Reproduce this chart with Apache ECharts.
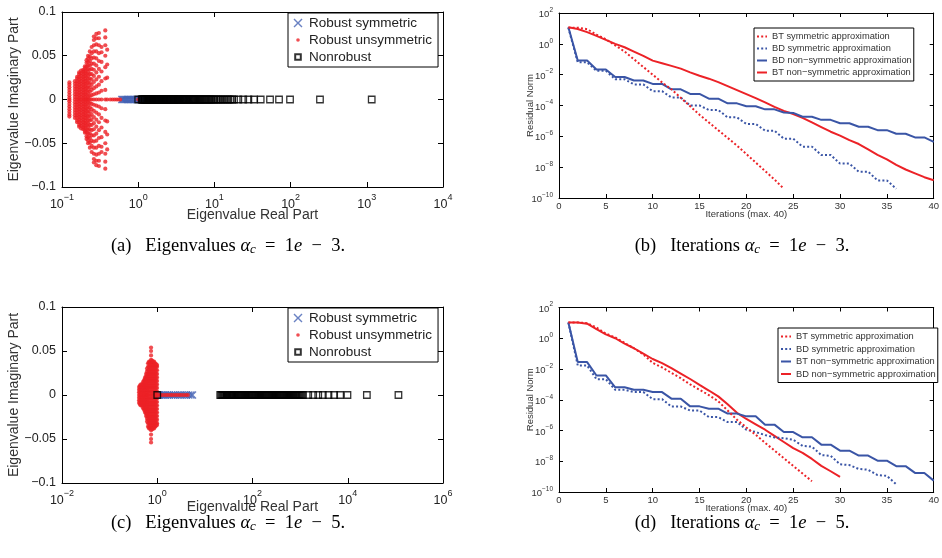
<!DOCTYPE html>
<html><head><meta charset="utf-8">
<script src="https://cdn.jsdelivr.net/npm/echarts@6/dist/echarts.min.js"></script>
<style>html,body{margin:0;padding:0;background:#fff}#c{width:942px;height:558px}</style>
</head><body><div id="c"></div>
<script>
// ---------------- DATA ----------------
// Panel (a): eigenvalues, alpha_c = 1e-3
// Robust symmetric (blue x): real parts, imaginary part 0
const symA_re = [0.61,0.63,0.65,0.67,0.69,0.71,0.73,0.75,0.78,0.8,0.83,0.86,0.89,0.92,0.95,0.98,1.02,1.06,1.1,1.15,1.2,1.25,1.3,1.36,1.42,1.5,1.6,1.7,1.8,1.95,2.1,2.3,2.5,2.75,3.0,3.3,3.6,4.0,4.4,4.8];
// Robust unsymmetric (red dots): [real part, |imag| values of conjugate pairs]
const unsymA_cols = [
  [0.125,[0.002,0.005,0.008,0.011,0.014,0.017,0.0195]],
  [0.148,[0.003,0.006,0.009,0.012,0.015,0.018,0.021]],
  [0.158,[0.003,0.006,0.009,0.012,0.015,0.018,0.021,0.024,0.026]],
  [0.168,[0.002,0.005,0.008,0.011,0.014,0.017,0.02,0.023,0.026,0.029,0.031]],
  [0.178,[0.003,0.006,0.009,0.012,0.015,0.018,0.021,0.024,0.027,0.03,0.033]],
  [0.19,[0.002,0.005,0.008,0.011,0.014,0.017,0.02,0.023,0.026,0.029,0.032,0.034]],
  [0.2,[0.003,0.006,0.009,0.012,0.015,0.018,0.021,0.024,0.027,0.03,0.033,0.036,0.038]],
  [0.21,[0.002,0.006,0.01,0.014,0.018,0.022,0.026,0.03,0.034,0.038,0.042,0.045]],
  [0.22,[0.003,0.007,0.011,0.015,0.019,0.023,0.027,0.031,0.035,0.039,0.043,0.047,0.05]],
  [0.232,[0.004,0.009,0.014,0.019,0.024,0.029,0.034,0.039,0.044,0.049,0.055]],
  [0.245,[0.005,0.011,0.017,0.023,0.029,0.035,0.041,0.047,0.053,0.06]],
  [0.262,[0.006,0.013,0.02,0.027,0.034,0.041,0.048,0.055,0.062,0.068,0.072]],
  [0.282,[0.007,0.015,0.023,0.031,0.039,0.047,0.055,0.063,0.07,0.075]],
  [0.305,[0.008,0.017,0.026,0.035,0.044,0.053,0.062,0.07,0.076]],
  [0.33,[0.01,0.021,0.032,0.043,0.054,0.06]],
  [0.37,[0.011,0.024,0.037,0.05,0.062,0.071,0.079]],
  [0.392,[0.025,0.04,0.057]],
  [0.43,[]],[0.46,[]],[0.49,[]],[0.52,[]],[0.55,[]],[0.58,[]],[1.0,[]]
];
// Nonrobust (black squares): real parts, imaginary part 0
const nonrobA_re = [1.0,1.11,1.13,1.15,1.17,1.2,1.22,1.25,1.28,1.3,1.33,1.36,1.39,1.42,1.45,1.48,1.52,1.55,1.59,1.62,1.66,1.7,1.74,1.78,1.82,1.86,1.9,1.95,2.0,2.05,2.1,2.15,2.2,2.25,2.3,2.36,2.42,2.48,2.54,2.6,2.66,2.72,2.8,2.87,2.94,3.0,3.08,3.16,3.24,3.32,3.4,3.5,3.6,3.7,3.8,3.9,4.0,4.1,4.2,4.3,4.4,4.55,4.7,4.85,5.0,5.15,5.3,5.45,5.6,5.8,6.0,6.2,6.4,6.6,6.8,7.0,7.25,7.5,7.75,8.0,8.3,8.6,8.9,9.2,9.6,10.0,10.5,11.0,11.6,12.2,12.9,13.6,14.5,15.3,16.2,17.1,18.1,20.6,23.9,27.9,33.1,40.5,53.7,70.5,98.3,243,1160];

// Panel (c): eigenvalues, alpha_c = 1e-5
const symC_re = [0.95,1.0,1.06,1.12,1.2,1.3,1.4,1.5,1.65,1.8,2.0,2.2,2.4,2.7,3.0,3.3,3.7,4.1,4.6,5.1,5.5];
const unsymC_cols = [
  [0.415,[0.003,0.006,0.009]],
  [0.435,[0.003,0.006,0.009,0.011]],
  [0.457,[0.003,0.006,0.009,0.012]],
  [0.48,[0.003,0.006,0.009,0.012]],
  [0.504,[0.003,0.006,0.009,0.012,0.015]],
  [0.53,[0.003,0.006,0.009,0.012,0.015,0.017]],
  [0.555,[0.003,0.006,0.009,0.012,0.015,0.018,0.02]],
  [0.583,[0.003,0.006,0.009,0.012,0.015,0.018,0.021,0.024]],
  [0.611,[0.003,0.006,0.009,0.012,0.015,0.018,0.021,0.024,0.027,0.03]],
  [0.64,[0.004,0.008,0.012,0.016,0.02,0.024,0.028,0.032,0.036]],
  [0.673,[0.004,0.008,0.012,0.016,0.02,0.024,0.028,0.032,0.036,0.038]],
  [0.706,[0.004,0.008,0.012,0.016,0.02,0.024,0.028,0.032,0.036,0.038]],
  [0.741,[0.004,0.008,0.012,0.016,0.02,0.024,0.028,0.032,0.036,0.04,0.045,0.05,0.054]],
  [0.778,[0.004,0.008,0.012,0.016,0.02,0.024,0.028,0.032,0.036,0.039]],
  [0.817,[0.004,0.008,0.012,0.016,0.02,0.024,0.028,0.032,0.036,0.038]],
  [0.857,[0.004,0.008,0.012,0.016,0.02,0.024,0.028,0.032,0.036,0.038]],
  [0.9,[0.004,0.008,0.012,0.016,0.02,0.024,0.028,0.032,0.036]],
  [0.944,[0.004,0.008,0.012,0.016,0.02,0.024,0.028,0.032,0.035]],
  [0.99,[0.004,0.008,0.012,0.016,0.02,0.024,0.028,0.032,0.034]],
  [1.05,[]],[1.15,[]],[1.25,[]],[1.4,[]],[1.55,[]],[1.7,[]],[1.9,[]],[2.1,[]],[2.35,[]],[2.6,[]],[2.9,[]],[3.2,[]],[3.6,[]],[4.0,[]],[4.4,[]]
];
const nonrobC_re = [1.0,21,22,23,24,25,26,27,28,29,30,31.5,33,34.5,36,37.5,39,41,43,45,47,49,51,53.5,56,58.5,61,64,67,70,73,76,80,84,88,92,96,100,105,110,115,120,126,132,138,144,150,157,164,172,180,188,197,206,216,226,236,247,258,270,283,296,310,324,339,355,371,388,406,425,445,465,487,510,533,558,584,611,640,670,700,733,767,803,840,880,920,965,1010,1080,1150,1480,1880,2400,3000,3940,5180,6920,9860,25200,116000];

// Panel (b): residual norm (log10) per iteration, alpha_c = 1e-3
const btSymB_log = [1.05,1.05,0.95,0.6,0.3,-0.1,-0.5,-1.0,-1.5,-2.0,-2.5,-2.95,-3.5,-4.05,-4.6,-5.1,-5.6,-6.1,-6.6,-7.15,-7.7,-8.25,-8.8,-9.4];
const bdSymB_log = [1.05,-1.2,-1.2,-1.75,-1.75,-2.3,-2.3,-2.63,-2.63,-3.07,-3.07,-3.48,-3.48,-4.0,-4.0,-4.29,-4.29,-4.77,-4.77,-5.2,-5.2,-5.63,-5.63,-6.15,-6.15,-6.67,-6.67,-7.21,-7.21,-7.77,-7.77,-8.29,-8.29,-8.86,-8.86,-9.4];
const bdNonB_log = [1.07,-1.08,-1.08,-1.67,-1.67,-2.15,-2.15,-2.38,-2.38,-2.6,-2.6,-2.95,-2.95,-3.25,-3.25,-3.56,-3.56,-3.86,-3.86,-4.05,-4.05,-4.25,-4.25,-4.45,-4.48,-4.73,-4.73,-4.93,-4.93,-5.15,-5.15,-5.38,-5.38,-5.6,-5.6,-5.83,-5.83,-6.07,-6.07,-6.36];
const btNonB_log = [1.07,0.96,0.76,0.52,0.26,0.0,-0.22,-0.5,-0.78,-1.09,-1.26,-1.43,-1.61,-1.85,-2.07,-2.26,-2.48,-2.74,-3.0,-3.26,-3.52,-3.8,-4.09,-4.35,-4.55,-4.8,-5.1,-5.4,-5.7,-5.95,-6.25,-6.5,-6.85,-7.2,-7.5,-7.85,-8.15,-8.4,-8.65,-8.85];

// Panel (d): residual norm (log10) per iteration, alpha_c = 1e-5
const btSymD_log = [1.03,1.03,0.98,0.7,0.3,0.05,-0.3,-0.65,-1.05,-1.6,-1.9,-2.25,-2.6,-3.0,-3.35,-3.7,-4.1,-4.7,-5.3,-5.8,-6.28,-6.8,-7.3,-7.8,-8.3,-8.8,-9.3];
const bdSymD_log = [1.03,-1.77,-1.77,-2.66,-2.66,-3.35,-3.35,-3.5,-3.5,-3.96,-3.96,-4.44,-4.44,-4.7,-4.7,-5.13,-5.13,-5.45,-5.45,-5.95,-6.1,-6.3,-6.45,-6.5,-6.6,-7.0,-7.05,-7.6,-7.65,-8.2,-8.25,-8.5,-8.55,-8.9,-8.95,-9.5];
const btNonD_log = [1.03,-1.55,-1.55,-2.42,-2.42,-3.19,-3.19,-3.35,-3.35,-3.5,-3.5,-3.93,-3.93,-4.43,-4.43,-4.58,-4.58,-4.9,-4.9,-5.08,-5.08,-5.62,-5.62,-6.1,-6.1,-6.44,-6.44,-6.92,-6.92,-7.31,-7.31,-7.63,-7.63,-7.96,-7.96,-8.32,-8.32,-8.76,-8.76,-9.26];
const bdNonD_log = [1.03,1.03,0.95,0.6,0.25,0.0,-0.35,-0.65,-1.0,-1.35,-1.62,-1.95,-2.3,-2.65,-3.03,-3.4,-3.78,-4.3,-4.85,-5.25,-5.6,-5.95,-6.35,-6.75,-7.15,-7.45,-7.85,-8.3,-8.65,-9.02];

const scatterNames = ['Robust symmetric','Robust unsymmetric','Nonrobust'];
const lineNamesB = ['BT symmetric approximation','BD symmetric approximation','BD non\u2212symmetric approximation','BT non\u2212symmetric approximation'];
const lineNamesD = ['BT symmetric approximation\u200b','BD symmetric approximation\u200b','BT non\u2212symmetric approximation\u200b','BD non\u2212symmetric approximation\u200b'];

// ---------------- BUILD ----------------
const RED = '#ec2227', BLUE = '#3a55a6', BLUEX = '#4563b4';
const SANS = '"Liberation Sans", Arial, Helvetica, sans-serif';
const SERIF = '"Liberation Serif", "Times New Roman", serif';
const XSYM = 'path://M0,1.2L1.2,0L5,3.8L8.8,0L10,1.2L6.2,5L10,8.8L8.8,10L5,6.2L1.2,10L0,8.8L3.8,5Z';
const DOT_ICON = 'path://M0,0M10,10M3.2,5a1.8,1.8 0 1,0 3.6,0a1.8,1.8 0 1,0 -3.6,0Z';
const SQ_ICON = 'path://M0,0M10,10M2.2,2.2L7.8,2.2L7.8,7.8L2.2,7.8Z';
const X_ICON = 'path://M0,0M10,10M0.5,1.5L1.5,0.5L5,4L8.5,0.5L9.5,1.5L6,5L9.5,8.5L8.5,9.5L5,6L1.5,9.5L0.5,8.5L4,5Z';

function reToPts(arr){ return arr.map(r => [r, 0]); }
function colsToPts(cols){
  const p = [];
  cols.forEach(c => { p.push([c[0], 0]); c[1].forEach(v => { p.push([c[0], v]); p.push([c[0], -v]); }); });
  return p;
}
function logToPts(arr){ return arr.map((e, i) => [i + 1, Math.pow(10, e)]); }

function supFmt(v){
  const e = Math.round(Math.log10(v));
  return '{b|10}{e|' + (e < 0 ? '\u2212' + (-e) : e) + '}';
}
function richBig(){ return { b:{fontSize:12.5, fontFamily:SANS, color:'#222', lineHeight:18, verticalAlign:'bottom'}, e:{fontSize:9, fontFamily:SANS, color:'#222', lineHeight:10, verticalAlign:'top'} }; }
function richSmall(){ return { b:{fontSize:9.5, fontFamily:SANS, color:'#333', lineHeight:13, verticalAlign:'bottom'}, e:{fontSize:6.5, fontFamily:SANS, color:'#333', lineHeight:7, verticalAlign:'top'} }; }
function imagFmt(v){
  if (Math.abs(v) < 1e-9) return '0';
  const s = String(+Math.abs(v).toFixed(3));
  return (v < 0 ? '\u2212' : '') + s;
}

const lineAx = {show:true, onZero:false, lineStyle:{color:'#000', width:1}};
const tickIn = (len) => ({show:true, inside:true, length:len, lineStyle:{color:'#000', width:1}});

const grids = [
  {left:62, top:12, width:381, height:175},
  {left:559, top:13, width:381, height:185},
  {left:62, top:307, width:381, height:176},
  {left:559, top:307.5, width:381, height:184.5}
];

function eigX(gi, min, max, interval, top, gap){
  return {type:'log', logBase:10, gridIndex:gi, position: top?'top':'bottom', min, max, interval,
    axisLine:lineAx, axisTick:tickIn(5), splitLine:{show:false},
    axisLabel: top ? {show:false} : {show:true, margin:6, formatter:supFmt, rich:richBig()},
    name: top ? '' : 'Eigenvalue Real Part', nameLocation:'middle', nameGap:gap, nameMoveOverlap:false,
    nameTextStyle:{fontSize:14, fontFamily:SANS, color:'#333'}};
}
function eigY(gi, right){
  return {type:'value', gridIndex:gi, position: right?'right':'left', min:-0.1, max:0.1, interval:0.05,
    axisLine:lineAx, axisTick:tickIn(5), splitLine:{show:false},
    axisLabel: right ? {show:false} : {show:true, margin:6, formatter:imagFmt, fontSize:12.5, fontFamily:SANS, color:'#222'},
    name: right ? '' : 'Eigenvalue Imaginary Part', nameLocation:'middle', nameGap:41, nameRotate:90, nameMoveOverlap:false,
    nameTextStyle:{fontSize:14, fontFamily:SANS, color:'#333'}};
}
function itX(gi, top){
  return {type:'value', gridIndex:gi, position: top?'top':'bottom', min:0, max:40, interval:5,
    axisLine:lineAx, axisTick:tickIn(4), splitLine:{show:false},
    axisLabel: top ? {show:false} : {show:true, margin:3, fontSize:9.5, fontFamily:SANS, color:'#333'},
    name: top ? '' : 'Iterations (max. 40)', nameLocation:'middle', nameGap:11, nameMoveOverlap:false,
    nameTextStyle:{fontSize:9.5, fontFamily:SANS, color:'#333'}};
}
function resY(gi, right){
  return {type:'log', logBase:10, gridIndex:gi, position: right?'right':'left', min:1e-10, max:1e2, interval:2,
    axisLine:lineAx, axisTick:tickIn(4), splitLine:{show:false},
    axisLabel: right ? {show:false} : {show:true, margin:6, formatter:supFmt, rich:richSmall()},
    name: right ? '' : 'Residual Norm', nameLocation:'middle', nameGap:24, nameRotate:90, nameMoveOverlap:false,
    nameTextStyle:{fontSize:9.5, fontFamily:SANS, color:'#333'}};
}

function scatterSeries(xi, sym, unsym, nonrob){
  return [
    {name:scatterNames[0], type:'scatter', xAxisIndex:xi, yAxisIndex:xi, data:reToPts(sym), symbol:XSYM, symbolSize:8,
      itemStyle:{color:BLUEX}, z:2, silent:true},
    {name:scatterNames[1], type:'scatter', xAxisIndex:xi, yAxisIndex:xi, data:colsToPts(unsym), symbol:'circle', symbolSize:4.2,
      itemStyle:{color:RED}, z:3, silent:true},
    {name:scatterNames[2], type:'scatter', xAxisIndex:xi, yAxisIndex:xi, data:reToPts(nonrob), symbol:'rect', symbolSize:6.5,
      itemStyle:{color:'rgba(0,0,0,0)', borderColor:'#000', borderWidth:1.3}, z:4, silent:true}
  ];
}
function lineSeries(xi, name, arr, color, dotted, z){
  return {name, type:'line', xAxisIndex:xi, yAxisIndex:xi, data:logToPts(arr), symbol:'none', showSymbol:false,
    lineStyle:{color, width:2, type: dotted ? [2,2.2] : 'solid'}, itemStyle:{color}, z, silent:true, animation:false};
}

const series = [].concat(
  scatterSeries(0, symA_re, unsymA_cols, nonrobA_re),
  scatterSeries(4, symC_re, unsymC_cols, nonrobC_re),
  [
    lineSeries(2, lineNamesB[0], btSymB_log, RED, true, 5),
    lineSeries(2, lineNamesB[1], bdSymB_log, BLUE, true, 4),
    lineSeries(2, lineNamesB[2], bdNonB_log, BLUE, false, 3),
    lineSeries(2, lineNamesB[3], btNonB_log, RED, false, 2),
    lineSeries(6, lineNamesD[0], btSymD_log, RED, true, 5),
    lineSeries(6, lineNamesD[1], bdSymD_log, BLUE, true, 4),
    lineSeries(6, lineNamesD[2], btNonD_log, BLUE, false, 3),
    lineSeries(6, lineNamesD[3], bdNonD_log, RED, false, 2)
  ]
);

const scatterLegendData = [
  {name:scatterNames[0], icon:X_ICON},
  {name:scatterNames[1], icon:DOT_ICON},
  {name:scatterNames[2], icon:SQ_ICON}
];
const legBase = {orient:'vertical', selectedMode:false, backgroundColor:'#fff', borderColor:'#000', borderWidth:1};
const legends = [
  Object.assign({}, legBase, {data:scatterLegendData, left:288, top:13, padding:[3,6,3,4], itemGap:3, itemWidth:12, itemHeight:10,
    textStyle:{fontSize:13.5, fontFamily:SANS, color:'#222'}}),
  Object.assign({}, legBase, {data:scatterLegendData, left:288, top:308, padding:[3,6,3,4], itemGap:3, itemWidth:12, itemHeight:10,
    textStyle:{fontSize:13.5, fontFamily:SANS, color:'#222'}}),
  Object.assign({}, legBase, {data:lineNamesB, left:754, top:28, padding:[4,2,4,2], itemGap:3, itemWidth:10, itemHeight:8,
    itemStyle:{opacity:0}, textStyle:{fontSize:9.3, fontFamily:SANS, color:'#333'}}),
  Object.assign({}, legBase, {data:lineNamesD, left:778, top:328, padding:[4,2,4,2], itemGap:3.5, itemWidth:10, itemHeight:8,
    itemStyle:{opacity:0}, textStyle:{fontSize:9.3, fontFamily:SANS, color:'#333'}})
];

function capRich(){
  return {
    n:{fontFamily:SERIF, fontSize:18.5, color:'#111', lineHeight:22, verticalAlign:'bottom'},
    i:{fontFamily:SERIF, fontSize:18.5, fontStyle:'italic', color:'#111', lineHeight:22, verticalAlign:'bottom'},
    s:{fontFamily:SERIF, fontSize:13, fontStyle:'italic', color:'#111', lineHeight:14, verticalAlign:'bottom'}
  };
}
function caption(x, y, lab, word, num){
  return {type:'text', x, y, silent:true, style:{
    text:'{n|(' + lab + ')   ' + word + ' }{i|\u03b1}{s|c}{n|  =  1}{i|e}{n|  \u2212  ' + num + '.}',
    align:'center', verticalAlign:'middle', rich:capRich()}};
}

const option = {
  animation:false,
  backgroundColor:'#fff',
  grid: grids,
  xAxis: [eigX(0,0.1,1e4,1,false,21), eigX(0,0.1,1e4,1,true,0), itX(1,false), itX(1,true),
          eigX(2,0.01,1e6,2,false,17), eigX(2,0.01,1e6,2,true,0), itX(3,false), itX(3,true)],
  yAxis: [eigY(0,false), eigY(0,true), resY(1,false), resY(1,true),
          eigY(2,false), eigY(2,true), resY(3,false), resY(3,true)],
  legend: legends,
  series,
  graphic: [
    caption(228, 245, 'a', 'Eigenvalues', 3),
    caption(742, 245, 'b', 'Iterations', 3),
    caption(228, 522, 'c', 'Eigenvalues', 5),
    caption(742, 522, 'd', 'Iterations', 5)
  ]
};
const chart = echarts.init(document.getElementById('c'), null, {renderer:'canvas'});
chart.setOption(option);
</script></body></html>
